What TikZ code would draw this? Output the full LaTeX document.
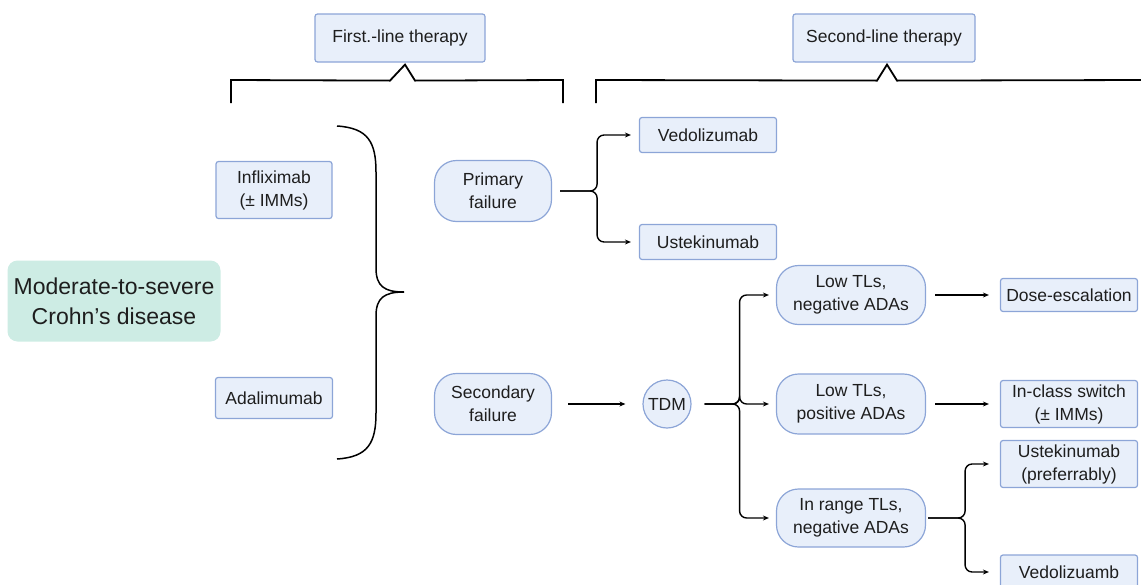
\documentclass[tikz,border=0pt]{standalone}
\usepackage{fontspec}
\setmainfont{Liberation Sans}
\usepackage{xcolor}
\usetikzlibrary{calc,
	positioning,
	arrows.meta}
\definecolor{boxfill}{RGB}{232,239,250}
\definecolor{boxline}{RGB}{140,165,215}
\definecolor{tealfill}{RGB}{205,236,228}
\definecolor{inktext}{RGB}{30,30,30}
\tikzset{
	lbl/.style={font=\fontsize{17.5}{23}\selectfont, text=inktext, align=center, inner sep=0pt},
	drug/.style={lbl, draw=boxline, fill=boxfill, line width=1.2pt, rounded corners=2.5pt},
	fail/.style={lbl, draw=boxline, fill=boxfill, line width=1.2pt, rounded corners=22pt},
	flow/.style={line width=1.4pt, -{Stealth[length=6pt,width=5pt]}},
	brack/.style={line width=1.8pt},
}

\begin{document}
\begin{tikzpicture}[x=1pt,y=-1pt]
	\useasboundingbox (0,0) rectangle (1141,584);
	% headers
	\node[drug, minimum width=170, minimum height=48] (first) at (400,38) {First.-line therapy};
	\node[drug, minimum width=182, minimum height=48] (second) at (884,38) {Second-line therapy};
	\draw[brack] (231,103) -- (231,80) -- ($(first.south)+(-10,18)$) -- ([xshift=5,yshift=-2]first.south)
		-- ($(first.south)+(15,18)$) -- (563,80) -- (563,103);
	\draw[brack] (596,103) -- (596,80) -- ($(second.south)+(-7,18)$) -- ([xshift=3,yshift=-2]second.south)
		-- ($(second.south)+(13,18)$) -- (1145,80);
	% first line
	\node[lbl, fill=tealfill, rounded corners=10pt, minimum width=213, minimum height=81,
		font=\fontsize{23}{30}\selectfont] (crohn) at (114,301) {Moderate-to-severe\\Crohn's disease};
	\node[drug, minimum width=116, minimum height=57] (inflix) at (274,190) {Infliximab\\(± IMMs)};
	\node[drug, minimum width=117, minimum height=41] (adali) at (274,398) {Adalimumab};
	\draw[line width=1.5pt] (337,126) .. controls (368,128) and (376,142) .. (376,172) -- (376,268)
		.. controls (376,286) and (384,292) .. (404,292);
	\draw[line width=1.5pt] (404,292) .. controls (384,292) and (376,298) .. (376,316) -- (376,413)
		.. controls (376,443) and (368,457) .. (337,459);
	% failures
	\node[fail, minimum width=117, minimum height=61] (prim) at (493,191) {Primary\\failure};
	\node[fail, minimum width=117, minimum height=61] (secd) at (493,404) {Secondary\\failure};
	\node[drug, minimum width=137, minimum height=35] (vedo) at (708,135) {Vedolizumab};
	\node[drug, minimum width=137, minimum height=35] (uste) at (708,242) {Ustekinumab};
	\coordinate (psplit) at ($(prim.east)+(45,0)$);
	\foreach \dst in {vedo,uste}
		\draw[flow, rounded corners=7pt] ([xshift=8]prim.east) -- (psplit) |- ([xshift=-8]\dst.west);
	% drug monitoring
	\node[lbl, circle, draw=boxline, fill=boxfill, line width=1.2pt, minimum size=48] (tdm) at (667,404) {TDM};
	\draw[flow] ([xshift=16]secd.east) -- ([xshift=-17]tdm.west);
	\node[fail, minimum width=149, minimum height=59] (lowneg) at (851,295) {Low TLs,\\negative ADAs};
	\node[fail, minimum width=149, minimum height=60] (lowpos) at (851,404) {Low TLs,\\positive ADAs};
	\node[fail, minimum width=149, minimum height=58] (inrange) at (851,518) {In range TLs,\\negative ADAs};
	\coordinate (tsplit) at ($(tdm.east)+(48,0)$);
	\foreach \dst in {lowneg,lowpos,inrange}
		\draw[flow, rounded corners=7pt] ([xshift=13]tdm.east) -- (tsplit) |- ([xshift=-7]\dst.west);
	% outcomes
	\node[drug, minimum width=137, minimum height=33] (dose) at (1069,295) {Dose-escalation};
	\node[drug, minimum width=137, minimum height=47] (switch) at (1069,404) {In-class switch\\(± IMMs)};
	\node[drug, minimum width=137, minimum height=47] (ustepref) at (1069,464) {Ustekinumab\\(preferrably)};
	\node[drug, minimum width=137, minimum height=34] (vedotwo) at (1069,572) {Vedolizuamb};
	\draw[flow] ([xshift=9]lowneg.east) -- ([xshift=-11]dose.west);
	\draw[flow] ([xshift=9]lowpos.east) -- ([xshift=-11]switch.west);
	\coordinate (isplit) at ($(inrange.east)+(39,0)$);
	\foreach \dst in {ustepref,vedotwo}
		\draw[flow, rounded corners=7pt] ([xshift=2]inrange.east) -- (isplit) |- ([xshift=-11]\dst.west);
\end{tikzpicture}
\end{document}
